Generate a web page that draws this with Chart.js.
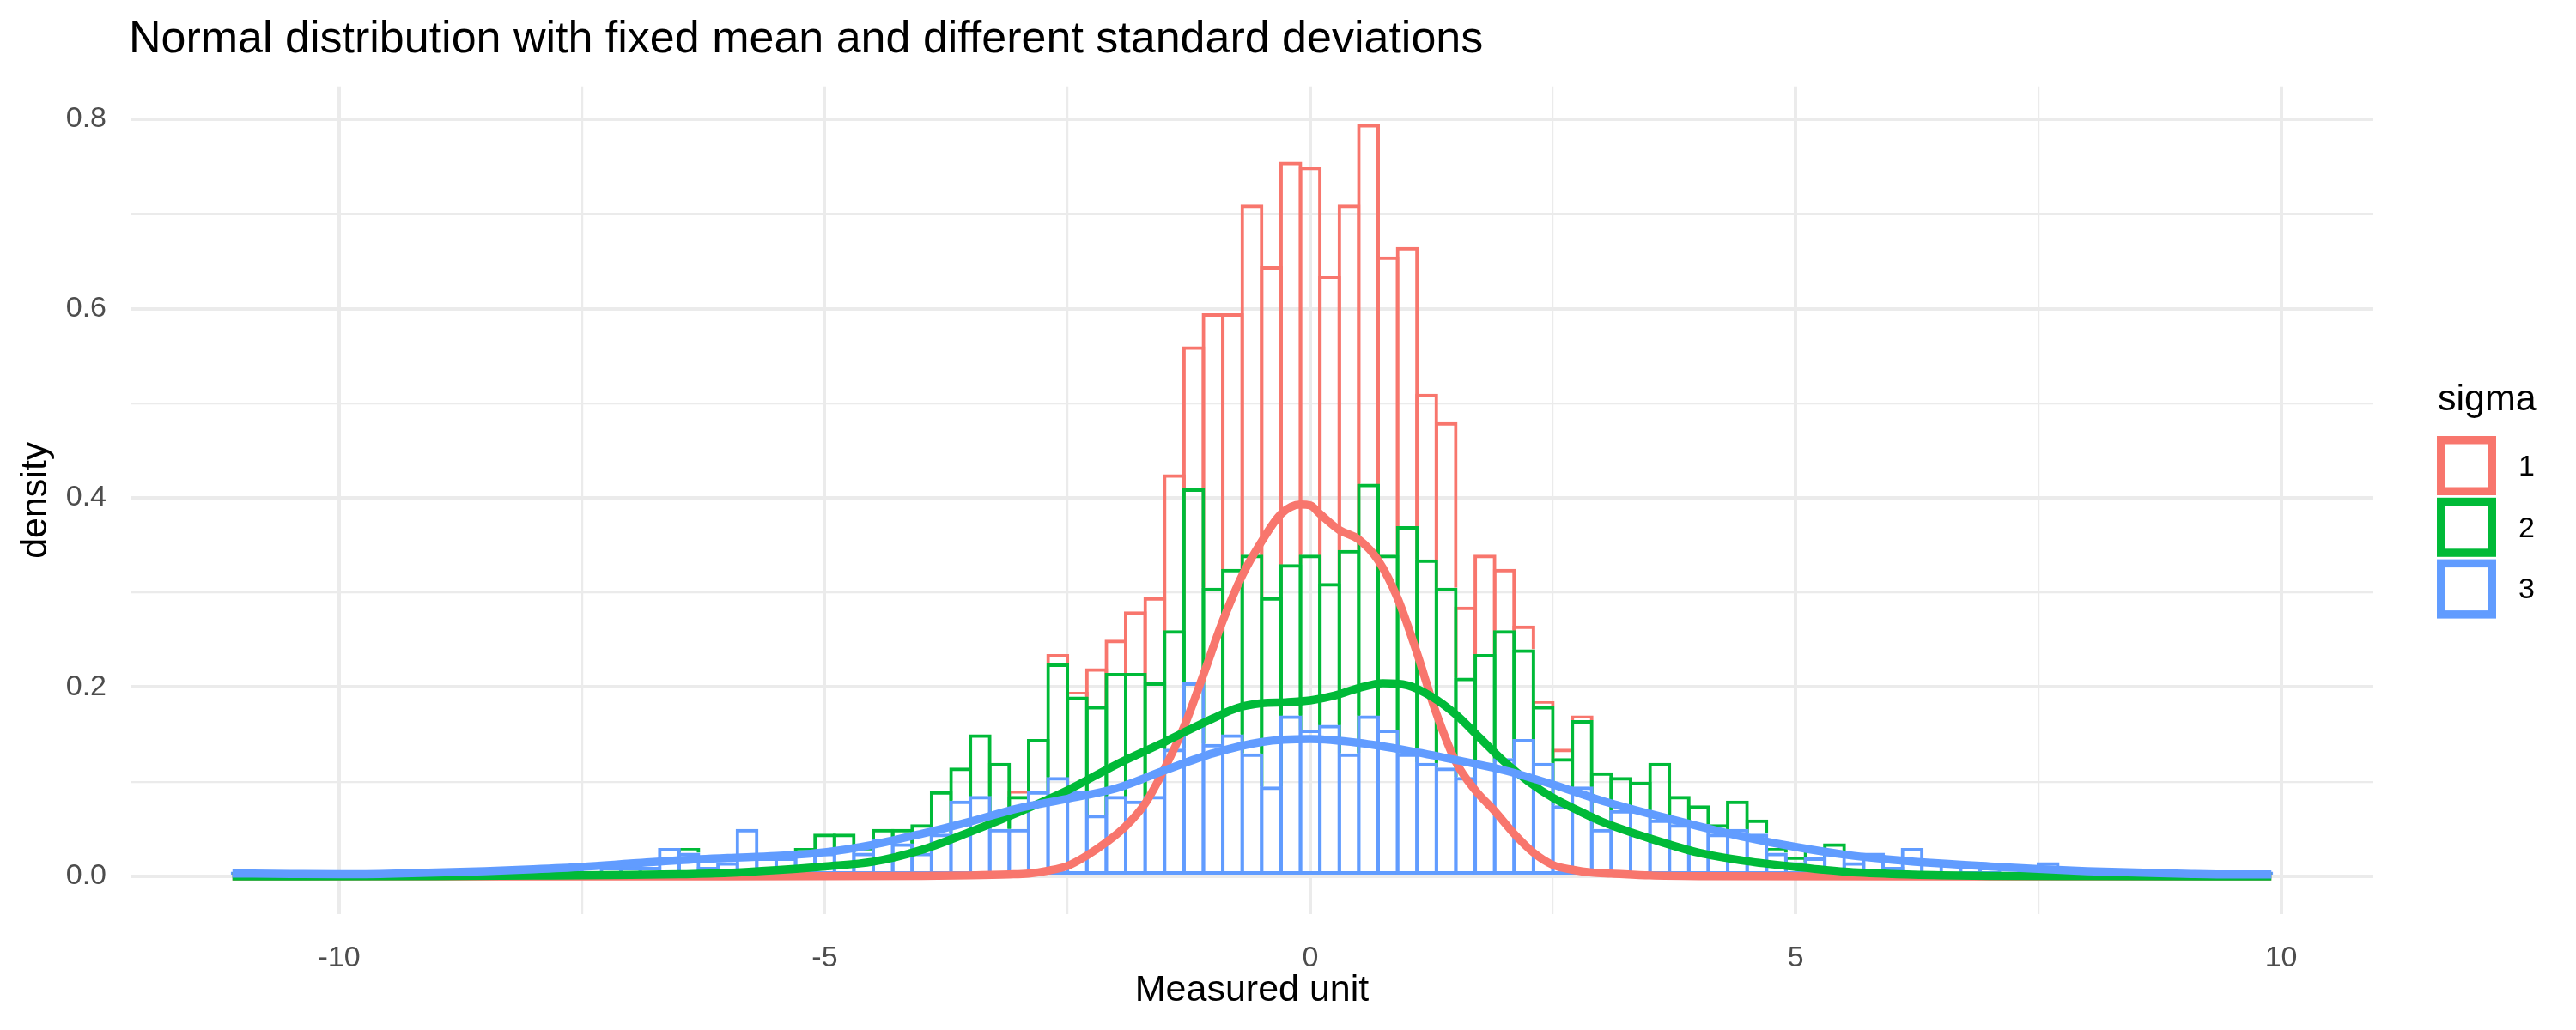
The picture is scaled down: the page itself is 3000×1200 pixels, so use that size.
<!DOCTYPE html>
<html>
<head>
<meta charset="utf-8">
<script src="https://cdn.jsdelivr.net/npm/chart.js@4.4.1/dist/chart.umd.min.js"></script>
<style>
html,body{margin:0;padding:0;background:#ffffff;}
canvas{display:block;}
</style>
</head>
<body>
<canvas id="c" width="3000" height="1200" style="width:3000px;height:1200px"></canvas>
<script>
// ---------- text ----------
const titleText = 'Normal distribution with fixed mean and different standard deviations';
const xTitle = 'Measured unit';
const yTitle = 'density';
const legendTitle = 'sigma';
const sigmaLabels = ['1', '2', '3'];
const seriesColors = ['#F8766D', '#00BA38', '#619CFF'];

// ---------- axes ----------
const xMajorTicks = [-10, -5, 0, 5, 10];
const xTickLabels = ['-10', '-5', '0', '5', '10'];
const xMinorTicks = [-7.5, -2.5, 2.5, 7.5];
const yMajorTicks = [0, 0.2, 0.4, 0.6, 0.8];
const yTickLabels = ['0.0', '0.2', '0.4', '0.6', '0.8'];
const yMinorTicks = [0.1, 0.3, 0.5, 0.7];

// ---------- histogram bins (centres, width 0.2) ----------
const binCenters = [-11.0,-10.8,-10.6,-10.4,-10.2,-10.0,-9.8,-9.6,-9.4,-9.2,-9.0,-8.8,-8.6,-8.4,-8.2,-8.0,-7.8,-7.6,-7.4,-7.2,-7.0,-6.8,-6.6,-6.4,-6.2,-6.0,-5.8,-5.6,-5.4,-5.2,-5.0,-4.8,-4.6,-4.4,-4.2,-4.0,-3.8,-3.6,-3.4,-3.2,-3.0,-2.8,-2.6,-2.4,-2.2,-2.0,-1.8,-1.6,-1.4,-1.2,-1.0,-0.8,-0.6,-0.4,-0.2,0.0,0.2,0.4,0.6,0.8,1.0,1.2,1.4,1.6,1.8,2.0,2.2,2.4,2.6,2.8,3.0,3.2,3.4,3.6,3.8,4.0,4.2,4.4,4.6,4.8,5.0,5.2,5.4,5.6,5.8,6.0,6.2,6.4,6.6,6.8,7.0,7.2,7.4,7.6,7.8,8.0,8.2,8.4,8.6,8.8,9.0,9.2,9.4,9.6,9.8];

// histogram density of each group (stacked in the picture: sigma 3 bottom, 2 middle, 1 top)
const histSigma3 = [0.005,0,0,0.005,0.005,0,0,0.005,0,0.005,0,0,0.005,0.005,0.005,0.005,0.005,0.010,0.005,0.010,0.010,0.010,
  0.030,0.025,0.010,0.015,0.050,0.020,0.020,0.025,0.025,0.030,0.025,0.040,0.035,0.025,0.045,0.080,0.085,0.050,
  0.050,0.090,0.105,0.090,0.065,0.085,0.080,0.085,0.135,0.205,0.140,0.150,0.130,0.095,0.170,0.155,0.160,0.130,0.170,0.155,0.130,0.120,0.115,0.105,0.120,0.125,0.145,0.120,0.075,0.095,
  0.050,0.070,0.070,0.060,0.055,0.055,0.045,0.050,0.045,0.025,0.015,0.020,0.025,0.015,0.025,0.010,0.030,
  0.015,0.005,0.015,0.010,0.005,0.010,0.015,0.010,0.005,0.005,0.005,0.005,0.005,0.005,0,0.005,0,0.005];
const histSigma2 = [0,0,0,0,0,0,0,0,0,0,0,0,0,0,0,0,0,0,0,0,0,0,0,
  0.005,0,0,0,0,0,0.005,0.020,0.015,0.005,0.010,0.015,0.030,0.045,0.035,0.065,0.070,
  0.035,0.055,0.120,0.100,0.115,0.130,0.135,0.120,0.125,0.205,0.165,0.175,0.210,0.200,0.160,0.185,0.150,0.215,0.245,0.185,0.240,0.215,0.190,0.105,0.115,0.135,0.095,0.060,0.050,0.070,
  0.060,0.035,0.030,0.060,0.030,0.020,0.010,0.030,0.015,0.005,0.005,0.010,0.010,
  0,0,0,0,0,0,0,0,0,0,0,0,0,0,0,0,0,0,0,0,0,0];
const histSigma1 = [0,0,0,0,0,0,0,0,0,0,0,0,0,0,0,0,0,0,0,0,0,0,0,0,0,0,0,0,0,0,0,0,0,0,0,0,0,0,0,0,
  0.005,0,0.010,0.005,0.040,0.035,0.065,0.090,0.165,0.150,0.290,0.270,0.370,0.350,0.425,0.410,0.325,0.365,0.380,0.315,0.295,0.175,0.175,0.075,0.105,0.065,0.025,0.005,0.010,0.005,
  0,0,0,0,0,0,0,0,0,0,0,0,0,0,0,0,0,0,0,0,0,0,0,0,0,0,0,0,0,0,0,0,0,0,0];

// ---------- density curves ----------
const kdeX1 = [-11.1,-6,-4,-3.5,-3.1,-2.9,-2.7,-2.5,-2.3,-2.1,-1.9,-1.7,-1.5,-1.3,-1.1,-0.9,-0.7,-0.5,-0.3,-0.1,0.0,0.1,0.3,0.5,0.7,0.9,1.1,1.3,1.5,1.7,1.9,2.1,2.3,2.5,2.7,2.9,3.1,3.5,4,6,9.9];
const kdeY1 = [0,0,0.0005,0.001,0.002,0.003,0.006,0.011,0.022,0.036,0.053,0.077,0.114,0.158,0.213,0.270,0.318,0.354,0.383,0.393,0.392,0.383,0.366,0.356,0.334,0.294,0.236,0.172,0.121,0.091,0.069,0.045,0.025,0.012,0.007,0.004,0.003,0.001,0.0003,0,0];
const kdeX2 = [-11.1,-9,-8,-7,-6.5,-6,-5.5,-5,-4.5,-4,-3.5,-3,-2.5,-2,-1.5,-1,-0.75,-0.5,-0.25,0,0.25,0.5,0.75,1,1.25,1.5,1.75,2,2.25,2.5,2.75,3,3.5,4,4.5,5,5.5,6,6.5,7,8,9.9];
const kdeY2 = [0,0.0003,0.0008,0.0015,0.0022,0.0035,0.0065,0.0105,0.0155,0.028,0.047,0.068,0.091,0.118,0.142,0.167,0.178,0.183,0.184,0.186,0.191,0.199,0.204,0.202,0.190,0.171,0.146,0.121,0.100,0.083,0.070,0.058,0.040,0.025,0.016,0.010,0.005,0.0025,0.0012,0.0005,0.0002,0];
const kdeX3 = [-11.1,-10.5,-10,-9.5,-9,-8.5,-8,-7.5,-7,-6.5,-6,-5.5,-5,-4.5,-4,-3.5,-3,-2.5,-2,-1.5,-1,-0.5,0,0.5,1,1.5,2,2.5,3,3.5,4,4.5,5,5.5,6,6.5,7,7.5,8,8.5,9,9.5,9.9];
const kdeY3 = [0.003,0.0025,0.0022,0.0028,0.004,0.0055,0.0075,0.010,0.0135,0.017,0.0195,0.0215,0.0255,0.0335,0.045,0.058,0.072,0.082,0.093,0.112,0.130,0.142,0.145,0.141,0.133,0.123,0.112,0.097,0.080,0.066,0.053,0.041,0.031,0.023,0.0175,0.0135,0.0105,0.0078,0.0055,0.004,0.0028,0.002,0.002];

// ---------- build library data ----------
const FONT = '"Liberation Sans", Arial, Helvetica, sans-serif';
const stackLow2 = histSigma3;
const stackLow1 = histSigma3.map((v, i) => v + histSigma2[i]);
const bars3 = binCenters.map((x, i) => ({x: x, y: [0, histSigma3[i]]}));
const bars2 = binCenters.map((x, i) => ({x: x, y: [stackLow2[i], stackLow2[i] + histSigma2[i]]}));
const bars1 = binCenters.map((x, i) => ({x: x, y: [stackLow1[i], stackLow1[i] + histSigma1[i]]}));
const pts = (xs, ys) => xs.map((x, i) => ({x: x, y: ys[i]}));

const barCommon = {
  type: 'bar',
  backgroundColor: 'rgba(0,0,0,0)',
  borderWidth: 4,
  barPercentage: 1.177,
  categoryPercentage: 1.0,
  grouped: false
};
const lineCommon = {
  type: 'line',
  pointRadius: 0,
  borderWidth: 9.5,
  fill: false,
  cubicInterpolationMode: 'monotone',
  borderCapStyle: 'butt',
  borderJoinStyle: 'round'
};

const datasets = [
  Object.assign({}, lineCommon, {label: 'kde 3', data: pts(kdeX3, kdeY3), borderColor: seriesColors[2], order: 0}),
  Object.assign({}, lineCommon, {label: 'kde 2', data: pts(kdeX2, kdeY2), borderColor: seriesColors[1], order: 1}),
  Object.assign({}, lineCommon, {label: 'kde 1', data: pts(kdeX1, kdeY1), borderColor: seriesColors[0], order: 2}),
  Object.assign({}, barCommon, {label: '3', data: bars3, borderColor: seriesColors[2], borderSkipped: false, order: 3}),
  Object.assign({}, barCommon, {label: '2', data: bars2, borderColor: seriesColors[1], borderSkipped: 'start', order: 4}),
  Object.assign({}, barCommon, {label: '1', data: bars1, borderColor: seriesColors[0], borderSkipped: 'start', order: 5})
];

const isMajor = (list, v) => list.some(t => Math.abs(t - v) < 1e-9);

const ggExtras = {
  id: 'ggExtras',
  afterDraw(chart) {
    const ctx = chart.ctx;
    const area = chart.chartArea;
    ctx.save();
    ctx.fillStyle = '#000000';
    ctx.textAlign = 'left';
    ctx.textBaseline = 'alphabetic';
    ctx.font = '52px ' + FONT;
    ctx.fillText(titleText, area.left - 2, 61);
    // legend
    ctx.font = '43px ' + FONT;
    ctx.fillText(legendTitle, 2839, 478);
    ctx.font = '34px ' + FONT;
    ctx.textBaseline = 'middle';
    sigmaLabels.forEach((lab, k) => {
      const top = 508 + 71.8 * k;
      ctx.fillStyle = '#ffffff';
      ctx.fillRect(2838, top, 69, 69);
      ctx.strokeStyle = seriesColors[k];
      ctx.lineWidth = 9.5;
      ctx.strokeRect(2838 + 4.75, top + 4.75, 69 - 9.5, 69 - 9.5);
      ctx.fillStyle = '#000000';
      ctx.fillText(lab, 2933, top + 36.5);
    });
    ctx.restore();
  }
};

new Chart(document.getElementById('c'), {
  type: 'bar',
  data: {datasets: datasets},
  options: {
    responsive: false,
    devicePixelRatio: 1,
    animation: false,
    events: [],
    layout: {padding: {left: 0, right: 236, top: 100.7, bottom: 0}},
    plugins: {legend: {display: false}, tooltip: {enabled: false}, title: {display: false}},
    scales: {
      x: {
        type: 'linear',
        min: -12.15,
        max: 10.95,
        offset: false,
        grid: {
          offset: false,
          color: '#EBEBEB',
          drawTicks: false,
          lineWidth: (c) => (c.tick && isMajor(xMajorTicks, c.tick.value)) ? 4 : 2.2
        },
        border: {display: false},
        ticks: {
          autoSkip: false,
          maxRotation: 0,
          padding: 31,
          color: '#4D4D4D',
          font: {family: FONT, size: 34},
          callback: (v) => { const k = xMajorTicks.findIndex(t => Math.abs(t - v) < 1e-9); return k >= 0 ? xTickLabels[k] : ''; }
        },
        title: {display: true, text: xTitle, color: '#000000', font: {family: FONT, size: 43}, padding: {top: 0, bottom: 20}},
        afterBuildTicks: (s) => { s.ticks = xMajorTicks.concat(xMinorTicks).sort((a, b) => a - b).map(v => ({value: v})); },
        afterFit: (s) => { s.height = 135.2; }
      },
      y: {
        type: 'linear',
        min: -0.03975,
        max: 0.83475,
        beginAtZero: false,
        grid: {
          color: '#EBEBEB',
          drawTicks: false,
          lineWidth: (c) => (c.tick && isMajor(yMajorTicks, c.tick.value)) ? 4 : 2.2
        },
        border: {display: false},
        ticks: {
          autoSkip: false,
          padding: 28,
          color: '#4D4D4D',
          font: {family: FONT, size: 34},
          callback: (v) => { const k = yMajorTicks.findIndex(t => Math.abs(t - v) < 1e-9); return k >= 0 ? yTickLabels[k] : ''; }
        },
        title: {display: true, text: yTitle, color: '#000000', font: {family: FONT, size: 43}, padding: {top: 16, bottom: 0}},
        afterBuildTicks: (s) => { s.ticks = yMajorTicks.concat(yMinorTicks).sort((a, b) => a - b).map(v => ({value: v})); },
        afterFit: (s) => { s.width = 152; }
      }
    }
  },
  plugins: [ggExtras]
});
</script>
</body>
</html>
